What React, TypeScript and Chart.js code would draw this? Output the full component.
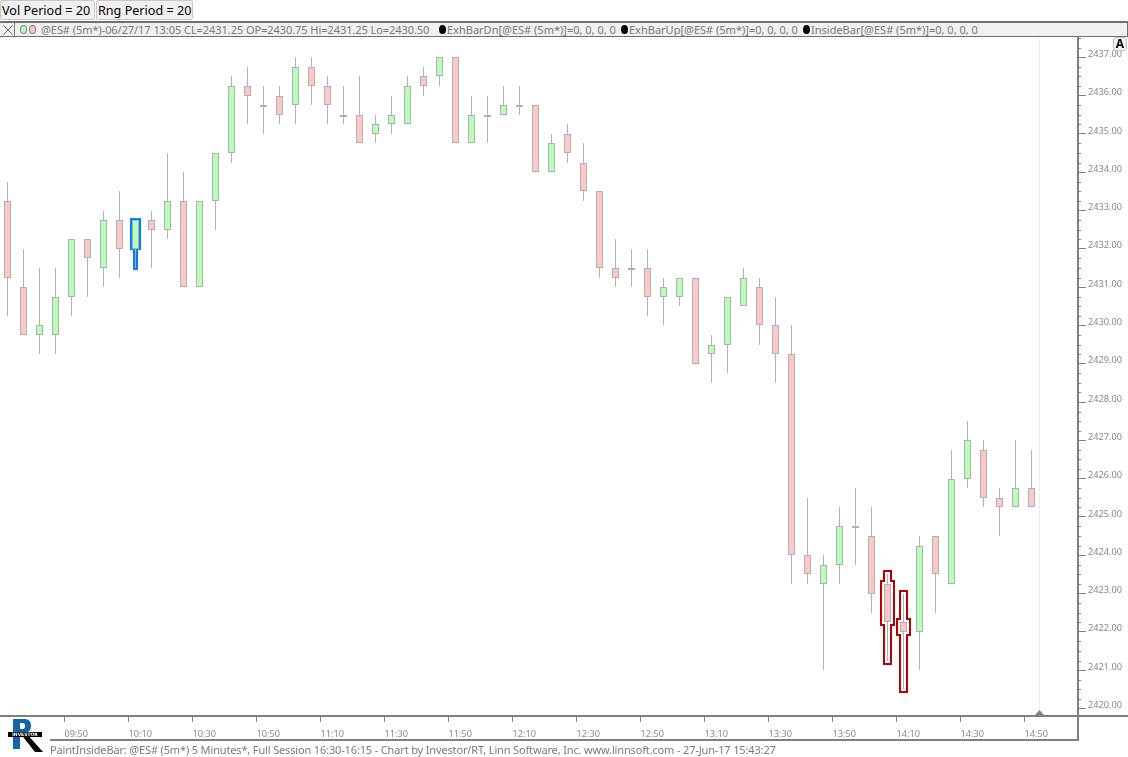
import React, { useEffect, useRef } from "react";
import { Chart, registerables } from "chart.js";

Chart.register(...registerables);

// ---- data ----
const opens = [2433.25,2431,2429.75,2429.75,2430.75,2432.25,2431.5,2432.75,2432,2432.75,2432.5,2433.25,2431,2433.25,2434.5,2436.25,2435.75,2436,2435.75,2436.75,2436.25,2435.5,2435.5,2435,2435.25,2435.25,2436.5,2436.5,2437,2434.75,2435.5,2435.5,2435.75,2435.75,2434,2435,2434.25,2433.5,2431.5,2431.5,2431.5,2430.75,2430.75,2431.25,2429.25,2429.5,2430.5,2431,2430,2429.25,2424,2423.25,2423.75,2424.75,2424.5,2423.25,2422.25,2422,2424.5,2423.25,2426,2426.75,2425.5,2425.25,2425.75];
const highs = [2433.75,2432,2431.5,2431.5,2432.25,2432.25,2433,2433.5,2432.75,2433,2434.5,2434,2433.25,2434.5,2436.5,2436.75,2436.25,2436.25,2437,2437,2436.5,2436.25,2436.5,2435.5,2436,2436.5,2436.75,2437,2437,2436,2436,2436.25,2436.25,2435.75,2435,2435.25,2434.75,2433.5,2432.25,2432,2432,2431.25,2431.25,2431.25,2429.75,2430.75,2431.5,2431.25,2430.75,2430,2425.5,2424,2425.25,2425.75,2425.25,2423.5,2423,2424.5,2424.5,2426.75,2427.5,2427,2425.75,2427,2426.75];
const lows = [2430.25,2429.75,2429.25,2429.25,2430.25,2430.75,2431,2431.25,2431.5,2431.5,2432.25,2431,2431,2432.5,2434.25,2435.25,2435,2435.25,2435.25,2435.75,2435.25,2435.25,2434.75,2434.75,2435,2435.25,2436,2436.25,2434.75,2434.75,2434.75,2435.5,2435.5,2434,2434,2434.25,2433.25,2431.25,2431,2431,2430.25,2430,2430.5,2429,2428.5,2428.75,2430.5,2429.5,2428.5,2423.25,2423.25,2421,2423.25,2423.75,2422.5,2421.25,2420.5,2421,2422.5,2423.25,2425.75,2425.25,2424.5,2425.25,2425.25];
const closes = [2431.25,2429.75,2430,2430.75,2432.25,2431.75,2432.75,2432,2432.75,2432.5,2433.25,2431,2433.25,2434.5,2436.25,2436,2435.75,2435.5,2436.75,2436.25,2435.75,2435.5,2434.75,2435.25,2435.5,2436.25,2436.25,2437,2434.75,2435.5,2435.5,2435.75,2435.75,2434,2434.75,2434.5,2433.5,2431.5,2431.25,2431.5,2430.75,2431,2431.25,2429,2429.5,2430.75,2431.25,2430,2429.25,2424,2423.5,2423.75,2424.75,2424.75,2423,2422.25,2422,2424.25,2423.5,2426,2427,2425.5,2425.25,2425.75,2425.25];
const xTickBars = [4,8,12,16,20,24,28,32,36,40,44,48,52,56,60,64];
const xTickLabels = ["09:50","10:10","10:30","10:50","11:10","11:30","11:50","12:10","12:30","12:50","13:10","13:30","13:50","14:10","14:30","14:50"];
const yTickValues = [2420,2421,2422,2423,2424,2425,2426,2427,2428,2429,2430,2431,2432,2433,2434,2435,2436,2437];
const blueBars = [8];
const redBars = [55,56];
const cursorBar = 65;

const upFill = "#b6ffb6";
const downFill = "#ffc6c6";
const edge = "#b0b0b0";
const axisGray = "#808080";
const textGray = "#7a7a7a";
const uiFont = "'Noto Sans', sans-serif";

const legendMain = "@ES# (5m*)-06/27/17 13:05 CL=2431.25 OP=2430.75 Hi=2431.25 Lo=2430.50";
const legendItems = [
  { text: "ExhBarDn[@ES# (5m*)]=0, 0, 0, 0", x: 447, dot: 442 },
  { text: "ExhBarUp[@ES# (5m*)]=0, 0, 0, 0", x: 629, dot: 624 },
  { text: "InsideBar[@ES# (5m*)]=0, 0, 0, 0", x: 811, dot: 806 },
];
const footerText = "PaintInsideBar: @ES# (5m*) 5 Minutes*, Full Session 16:30-16:15 - Chart by Investor/RT, Linn Software, Inc. www.linnsoft.com - 27-Jun-17 15:43:27";
const buttons = [
  { text: "Vol Period = 20", x: 0, w: 95 },
  { text: "Rng Period = 20", x: 96, w: 97 },
];

const snapBars = {
  id: "snapBars",
  beforeDatasetsDraw(chart: any) {
    chart.data.datasets.forEach((_: any, d: number) => {
      chart.getDatasetMeta(d).data.forEach((el: any) => {
        const a = Math.round(el.y);
        let b = Math.round(el.base);
        if (a === b) b = a + 2;
        el.y = a;
        el.base = b;
      });
    });
  },
};

const frame = {
  id: "frame",
  beforeDatasetsDraw(chart: any) {
    const { ctx, scales } = chart;
    const cx = scales.x.getPixelForValue(cursorBar) - 8;
    ctx.save();
    ctx.strokeStyle = "#eeeeee";
    ctx.lineWidth = 1;
    ctx.beginPath();
    ctx.moveTo(cx, 37);
    ctx.lineTo(cx, 715);
    ctx.stroke();
    ctx.restore();
  },
  afterDraw(chart: any) {
    const { ctx, scales } = chart;
    const y = scales.y;
    const x = scales.x;
    ctx.save();
    ctx.strokeStyle = axisGray;
    // minor price ticks
    ctx.lineWidth = 1;
    ctx.beginPath();
    for (let q = Math.ceil(y.min * 4); q <= y.max * 4; q++) {
      if (q % 4 === 0) continue;
      const py = Math.round(y.getPixelForValue(q / 4)) + 0.5;
      ctx.moveTo(1077, py);
      ctx.lineTo(1081, py);
    }
    ctx.stroke();
    // frame lines
    ctx.lineWidth = 2;
    ctx.beginPath();
    ctx.moveTo(0, 716);
    ctx.lineTo(1128, 716);
    ctx.moveTo(1078, 37);
    ctx.lineTo(1078, 741);
    ctx.moveTo(50, 740);
    ctx.lineTo(1078, 740);
    ctx.stroke();
    // last-bar marker
    const cx = x.getPixelForValue(cursorBar) - 8;
    ctx.fillStyle = axisGray;
    ctx.beginPath();
    ctx.moveTo(cx - 4.5, 715);
    ctx.lineTo(cx, 710);
    ctx.lineTo(cx + 4.5, 715);
    ctx.closePath();
    ctx.fill();
    ctx.restore();
  },
};

function stepOutline(chart: any, i: number, color: string, wickHalf: number, bodyHalf: number, off: number, bottomOff: number) {
  const { ctx, scales } = chart;
  const cx = scales.x.getPixelForValue(i);
  const py = (v: number) => Math.round(scales.y.getPixelForValue(v));
  const top = py(Math.max(opens[i], closes[i])) - off;
  const bot = py(Math.min(opens[i], closes[i])) + bottomOff;
  const hi = Math.min(py(highs[i]) - off, top);
  const lo = py(lows[i]) + off;
  const pts: [number, number][] = [];
  if (hi < top) {
    pts.push([cx - wickHalf, hi], [cx + wickHalf, hi], [cx + wickHalf, top]);
  }
  pts.push([cx + bodyHalf, top], [cx + bodyHalf, bot], [cx + wickHalf, bot], [cx + wickHalf, lo], [cx - wickHalf, lo], [cx - wickHalf, bot], [cx - bodyHalf, bot], [cx - bodyHalf, top]);
  if (hi < top) pts.push([cx - wickHalf, top]);
  ctx.save();
  ctx.strokeStyle = color;
  ctx.lineWidth = 2;
  ctx.lineJoin = "miter";
  ctx.beginPath();
  pts.forEach((p, k) => (k === 0 ? ctx.moveTo(p[0], p[1]) : ctx.lineTo(p[0], p[1])));
  ctx.closePath();
  ctx.stroke();
  ctx.restore();
}

const highlights = {
  id: "highlights",
  beforeDatasetsDraw(chart: any) {
    blueBars.forEach((i) => stepOutline(chart, i, "#0080ff", 1.5, 4.5, 1, 0));
    redBars.forEach((i) => stepOutline(chart, i, "#b80000", 3.5, 6.5, 3, 3));
  },
};

function Logo() {
  return (
    <svg width="46" height="42" style={{ position: "absolute", left: 6, top: 715 }} viewBox="0 0 46 42">
      <path d="M7 4 H19 Q25 4 25 11 Q25 18 18 18 L14 18 V34 H7 Z M14 8 V14 H17 Q19 14 19 11 Q19 8 17 8 Z" fill="#1464a8" fillRule="evenodd" />
      <path d="M14 18 H20 L37 37 H29 Z" fill="#000" />
      <rect x="2" y="17" width="34" height="5" fill="#000" />
      <text x="19" y="21.2" fontSize="4.5" fontWeight="700" fill="#fff" textAnchor="middle" fontFamily="'DejaVu Sans'">INVESTOR</text>
    </svg>
  );
}

export default function App() {
  const ref = useRef<HTMLCanvasElement | null>(null);
  useEffect(() => {
    if (!ref.current) return;
    const idx = opens.map((_, i) => i);
    const chart = new Chart(ref.current, {
      type: "bar",
      data: {
        datasets: [
          {
            label: "Body",
            data: idx.map((i) => ({ x: i, y: [Math.min(opens[i], closes[i]), Math.max(opens[i], closes[i])] })) as any,
            backgroundColor: idx.map((i) => (closes[i] > opens[i] ? upFill : downFill)),
            borderColor: edge,
            borderWidth: 1,
            borderSkipped: false,
            barThickness: 7,
            grouped: false,
            inflateAmount: 0,
          } as any,
          {
            label: "Range",
            data: idx.map((i) => ({ x: i, y: [lows[i], highs[i]] })) as any,
            backgroundColor: edge,
            borderWidth: 0,
            barThickness: 1,
            grouped: false,
            inflateAmount: 0,
          } as any,
        ],
      },
      options: {
        animation: false,
        responsive: false,
        devicePixelRatio: 1,
        events: [],
        layout: { autoPadding: false, padding: { top: 37, bottom: 17, left: 0, right: 0 } },
        plugins: { legend: { display: false }, tooltip: { enabled: false } },
        scales: {
          x: {
            type: "linear",
            offset: false,
            min: -0.46875,
            max: 66.84375,
            grid: { offset: false, drawOnChartArea: false, tickLength: 7, tickColor: axisGray, tickWidth: 1 },
            border: { display: false },
            afterBuildTicks: (s: any) => {
              s.ticks = xTickBars.map((b) => ({ value: b - 0.4375 }));
            },
            afterFit: (s: any) => {
              s.height = 25;
            },
            ticks: {
              autoSkip: false,
              maxRotation: 0,
              align: "start",
              padding: 7,
              color: "#8a8a80",
              font: { family: "'Noto Sans'", size: 9.2 },
              callback: (_v: any, i: number) => xTickLabels[i],
            },
          } as any,
          y: {
            type: "linear",
            position: "right",
            min: 2419.828,
            max: 2437.53,
            grid: { drawOnChartArea: false, tickLength: 9, tickColor: axisGray, tickWidth: 1 },
            border: { display: false },
            afterBuildTicks: (s: any) => {
              s.ticks = yTickValues.map((v) => ({ value: v }));
            },
            afterFit: (s: any) => {
              s.width = 51;
            },
            ticks: {
              autoSkip: false,
              padding: 2,
              labelOffset: -3,
              color: "#8a8a80",
              font: { family: "'Noto Sans'", size: 9.2 },
              callback: (v: any) => Number(v).toFixed(2),
            },
          } as any,
        },
      },
      plugins: [snapBars, frame, highlights],
    } as any);
    return () => chart.destroy();
  }, []);

  const textStyle: React.CSSProperties = {
    position: "absolute",
    whiteSpace: "pre",
    fontFamily: uiFont,
    fontSize: 11,
    lineHeight: "14px",
    color: textGray,
  };

  return (
    <div style={{ position: "absolute", left: 0, top: 0, width: 1128, height: 757, overflow: "hidden", background: "#fff" }}>
      <canvas ref={ref} width={1128} height={757} style={{ display: "block", position: "absolute", left: 0, top: 0 }} />
      {buttons.map((b) => (
        <div
          key={b.text}
          style={{
            position: "absolute",
            left: b.x,
            top: 0,
            width: b.w,
            height: 20,
            boxSizing: "border-box",
            background: "#f0f0f0",
            border: "1px solid #c8c8c8",
            borderRadius: 2,
            fontFamily: uiFont,
            fontSize: 12.6,
            lineHeight: "19px",
            paddingLeft: 1,
            color: "#000",
            whiteSpace: "pre",
          }}
        >
          {b.text}
        </div>
      ))}
      <div style={{ position: "absolute", left: 0, top: 21, width: 1128, height: 16, boxSizing: "border-box", background: "#f0f0f0", borderTop: "2px solid #707070", borderBottom: "1px solid #707070", borderRight: "1px solid #707070" }} />
      <div style={{ position: "absolute", left: 1, top: 23, width: 14, height: 13, boxSizing: "border-box", borderRight: "1px solid #808080" }} />
      <svg width="10" height="10" style={{ position: "absolute", left: 3, top: 25 }}>
        <path d="M0.5 0.5 L9.5 9.5 M9.5 0.5 L0.5 9.5" stroke="#707070" strokeWidth="1" />
      </svg>
      <div style={{ position: "absolute", left: 20, top: 25, width: 7, height: 9, borderRadius: "50%", background: "#b6ffb6", border: "1px solid #808080", boxSizing: "border-box" }} />
      <div style={{ position: "absolute", left: 29, top: 25, width: 7, height: 9, borderRadius: "50%", background: "#ffc6c6", border: "1px solid #808080", boxSizing: "border-box" }} />
      <div style={{ ...textStyle, left: 41, top: 23, letterSpacing: -0.06 }}>{legendMain}</div>
      {legendItems.map((l) => (
        <React.Fragment key={l.text}>
          <div style={{ position: "absolute", left: l.dot - 3, top: 25, width: 7, height: 9, borderRadius: "50%", background: "#000" }} />
          <div style={{ ...textStyle, left: l.x, top: 23 }}>{l.text}</div>
        </React.Fragment>
      ))}
      <div style={{ ...textStyle, left: 50, top: 743, letterSpacing: -0.15 }}>{footerText}</div>
      <div style={{ position: "absolute", left: 1113, top: 37, width: 14, height: 14, boxSizing: "border-box", border: "1px solid #c0c0c0", borderRadius: 3, background: "#f4f4f4", fontFamily: uiFont, fontWeight: 700, fontSize: 12, lineHeight: "12px", textAlign: "center", color: "#000" }}>A</div>
      <Logo />
    </div>
  );
}
